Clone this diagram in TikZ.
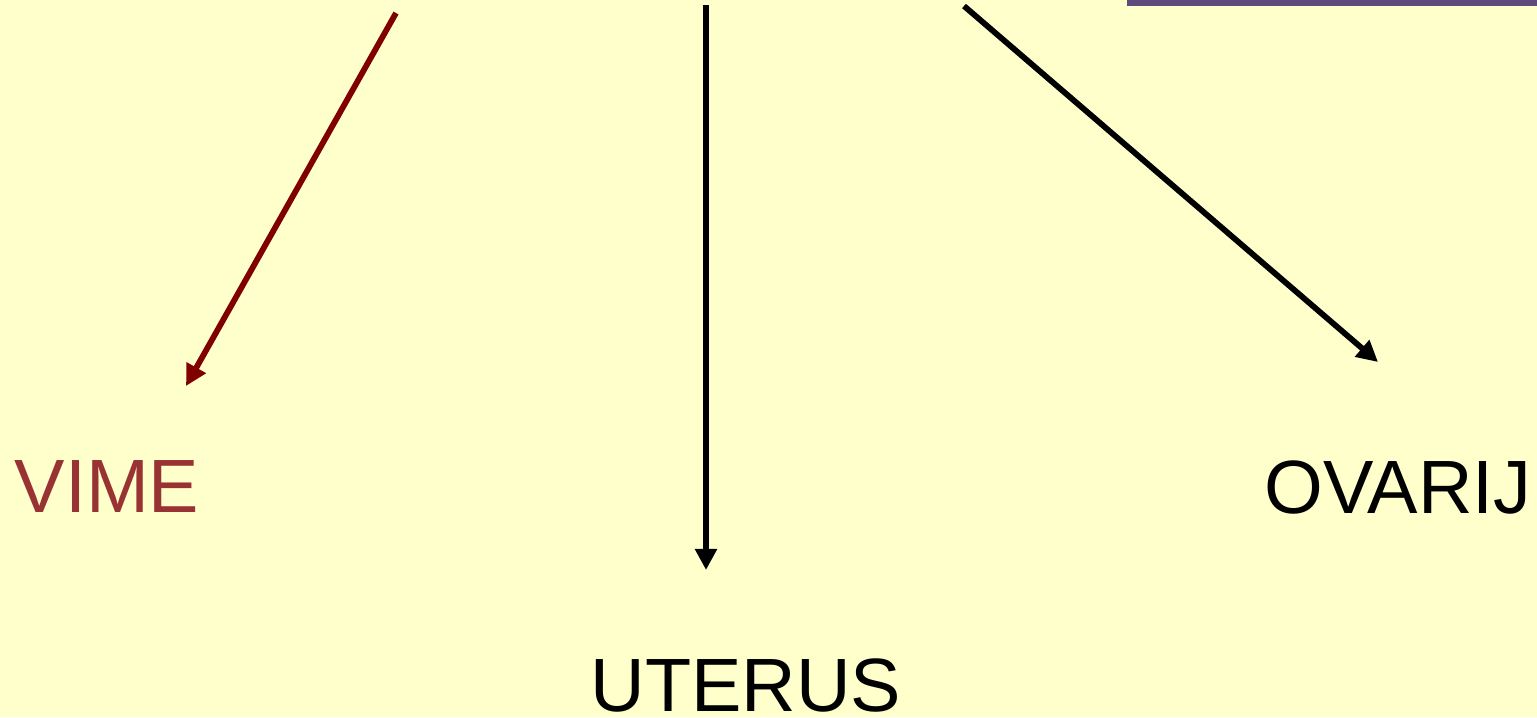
\documentclass[tikz,border=0pt]{standalone}
\usepackage{fontspec}
\setmainfont{Liberation Sans}
\usepackage{xcolor}
\usetikzlibrary{positioning, arrows.meta}

\definecolor{slidebg}{HTML}{FFFFCC}
\definecolor{barpurple}{HTML}{604A7B}
\definecolor{vimered}{HTML}{993333}
\definecolor{vimearrow}{HTML}{800000}

\begin{document}
\begin{tikzpicture}[
    x=0.02cm, y=-0.02cm,
    organ/.style={inner sep=0pt, anchor=base, text=#1, font=\fontsize{43}{50}\selectfont},
    arr/.style={-{Triangle[length=12pt, width=12pt]}, line width=3.3pt, draw=#1},
]
\fill[slidebg] (0,0) rectangle (1537,717);
\useasboundingbox (0,0) rectangle (1537,717);
\fill[barpurple] (1127,0) rectangle (1537,6);

% targets
\node[organ=vimered] (vime) at (107,512) {VIME};
\node[organ=black] (uterus) at (746,711) {UTERUS};
\node[organ=black] (ovarij) at (1398,513) {OVARIJ};

% arrow ends
\coordinate (vimetop) at (396,13);
\coordinate (vimetip) at (186,386);
\coordinate (uterustop) at (706,5);
\coordinate (uterustip) at (706,570);
\coordinate (ovarijtop) at (964,6);
\coordinate (ovarijtip) at (1378,362);

\draw[arr=vimearrow] (vimetop) -- (vimetip);
\draw[arr=black] (uterustop) -- (uterustip);
\draw[arr=black] (ovarijtop) -- (ovarijtip);
\end{tikzpicture}
\end{document}
